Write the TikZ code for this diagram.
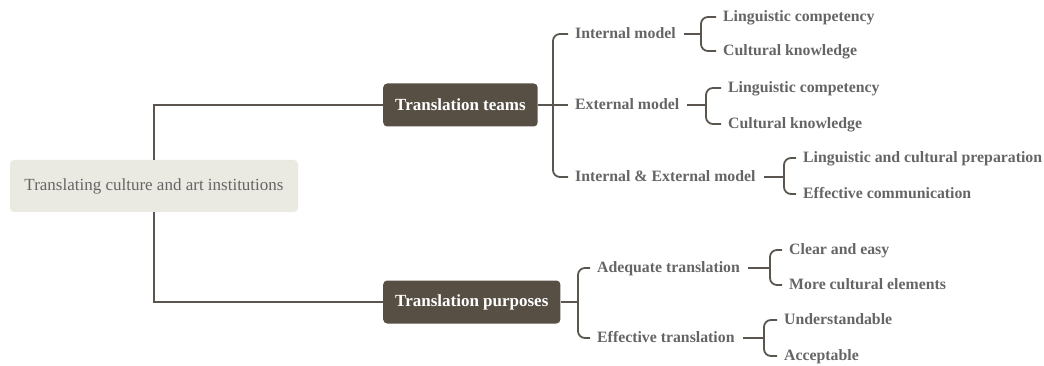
\documentclass[tikz,border=0pt]{standalone}
\usepackage{fontspec}
\setmainfont{Liberation Serif}
\usetikzlibrary{calc,positioning}
\definecolor{rootfill}{HTML}{EBEAE2}
\definecolor{boxfill}{HTML}{574F44}
\definecolor{linecol}{HTML}{5A554F}
\definecolor{textcol}{HTML}{656565}
\tikzset{
     root node/.style={fill=rootfill, rounded corners=4pt, minimum width=288pt, minimum height=52pt,
       text=textcol, font=\fontsize{17}{20}\selectfont},
     main node/.style={anchor=west, fill=boxfill, rounded corners=4pt, minimum height=43pt, inner xsep=12pt,
       text=white, font=\bfseries\fontsize{17}{20}\selectfont},
     leaf node/.style={anchor=west, inner sep=2pt, text height=12pt, text depth=3pt,
       text=textcol, font=\bfseries\fontsize{15.8}{19}\selectfont},
     trunk/.style   = {linecol, line width=2.6pt},
     stem/.style    = {linecol, line width=2.4pt, shorten >=5pt},
     brace/.style   = {linecol, line width=1.8pt, rounded corners=7pt, shorten <=5pt, shorten >=5pt},
    }
\begin{document}
\begin{tikzpicture}[x=1pt,y=-1pt]
        \useasboundingbox (0,0) rectangle (1044,366);
        \node [root node] (root) at (154,186) {Translating culture and art institutions};
        \node [main node] (teams) at (383,105) {Translation teams};
        \node [main node] (purp)  at (383,302) {Translation purposes};
        % translation teams
        \node [leaf node] (im)  at (573,34)  {Internal model};
        \node [leaf node] (em)  at (573,105) {External model};
        \node [leaf node] (iem) at (573,177) {Internal \& External model};
        \node [leaf node] (lc1) at (721,17)  {Linguistic competency};
        \node [leaf node] (ck1) at (721,51)  {Cultural knowledge};
        \node [leaf node] (lc2) at (726,88)  {Linguistic competency};
        \node [leaf node] (ck2) at (726,124) {Cultural knowledge};
        \node [leaf node] (lcp) at (801,158) {Linguistic and cultural preparation};
        \node [leaf node] (ec)  at (801,194) {Effective communication};
        % translation purposes
        \node [leaf node] (at)  at (595,268) {Adequate translation};
        \node [leaf node] (et)  at (595,338) {Effective translation};
        \node [leaf node] (ce)  at (787,250) {Clear and easy};
        \node [leaf node] (mce) at (787,285) {More cultural elements};
        \node [leaf node] (und) at (782,320) {Understandable};
        \node [leaf node] (acc) at (782,356) {Acceptable};
        % brace points
        \coordinate (teamsb) at ($(im.west |- teams.east)+(-20,0)$);
        \coordinate (purpb)  at ($(at.west |- purp.east)+(-17,0)$);
        \coordinate (imb)    at ($(lc1.west |- im.east)+(-20,0)$);
        \coordinate (emb)    at ($(lc2.west |- em.east)+(-20,0)$);
        \coordinate (iemb)   at ($(lcp.west |- iem.east)+(-17,0)$);
        \coordinate (atb)    at ($(ce.west |- at.east)+(-17,0)$);
        \coordinate (etb)    at ($(und.west |- et.east)+(-18,0)$);
        \draw [trunk] (root.north) |- (teams.west);
        \draw [trunk] (root.south) |- (purp.west);
        \draw [stem] (teams.east) -- (em.west);
        \draw [stem, shorten >=0pt] (purp.east) -- (purpb);
        \draw [stem, shorten >=0pt, shorten <=6pt] (im.east) -- (imb);
        \draw [stem, shorten >=0pt, shorten <=6pt] (em.east) -- (emb);
        \draw [stem, shorten >=0pt, shorten <=6pt] (iem.east) -- (iemb);
        \draw [stem, shorten >=0pt, shorten <=6pt] (at.east) -- (atb);
        \draw [stem, shorten >=0pt, shorten <=6pt] (et.east) -- (etb);
        \draw [brace] (im.west) -| (teamsb) |- (iem.west);
        \draw [brace] (at.west) -| (purpb) |- (et.west);
        \draw [brace] (lc1.west) -| (imb) |- (ck1.west);
        \draw [brace] (lc2.west) -| (emb) |- (ck2.west);
        \draw [brace] (lcp.west) -| (iemb) |- (ec.west);
        \draw [brace] (ce.west) -| (atb) |- (mce.west);
        \draw [brace] (und.west) -| (etb) |- (acc.west);
    \end{tikzpicture}
\end{document}
